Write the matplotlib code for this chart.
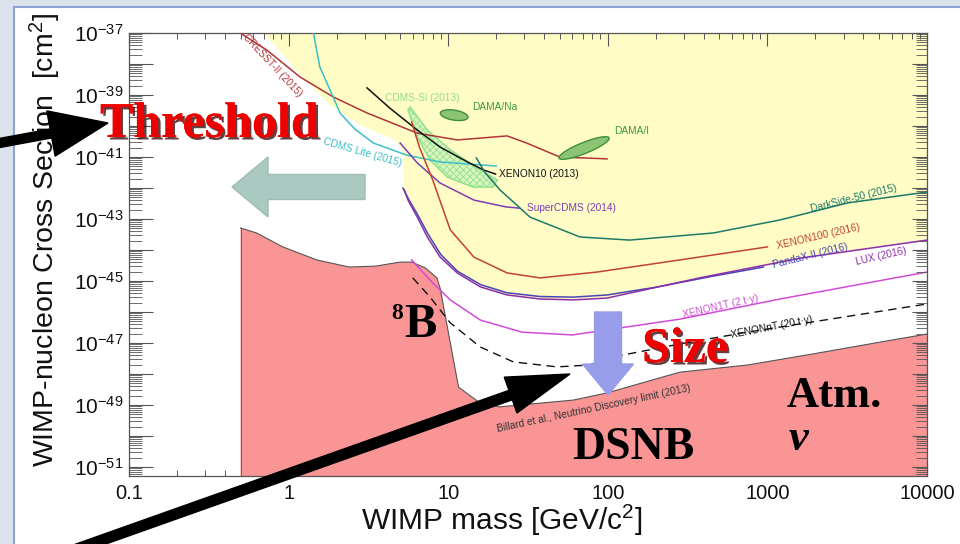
import numpy as np
import matplotlib
matplotlib.use('Agg')
import matplotlib.pyplot as plt
from matplotlib.patches import Rectangle, FancyArrow
from matplotlib.ticker import FixedLocator, NullFormatter, LogLocator, FixedFormatter
import matplotlib.patheffects as pe

plt.rcParams['font.family'] = ['Liberation Sans', 'DejaVu Sans']
plt.rcParams['mathtext.fontset'] = 'custom'
plt.rcParams['mathtext.rm'] = 'Liberation Sans'
plt.rcParams['mathtext.it'] = 'Liberation Sans:italic'
plt.rcParams['hatch.linewidth'] = 0.6

# ---------------- data ----------------
x_tick_values = [0.1, 1, 10, 100, 1000, 10000]
x_tick_labels = ['0.1', '1', '10', '100', '1000', '10000']
y_major_exps = list(range(-51, -36))
y_label_exps = [-37, -39, -41, -43, -45, -47, -49, -51]

# neutrino discovery limit (Billard et al. 2013) - log10 sigma
nu_mass = [0.5, 0.63, 0.92, 1.5, 2.4, 3.5, 5.0, 5.9, 7.2, 8.5, 8.9, 11.6, 12.9, 15.9, 21, 37.6,
           61, 99, 283, 750, 1940, 5100, 10000]
nu_logsig = [-43.29, -43.45, -43.9, -44.32, -44.55, -44.52, -44.39, -44.39, -44.58, -44.9, -45.23,
             -48.42, -48.6, -48.94, -49.06, -48.94, -48.84, -48.61, -47.94, -47.71, -47.35, -46.97, -46.71]

# excluded (yellow) region upper-left edge
excl_edge_mass = [0.68, 0.82, 1.18, 1.82, 2.8, 4.65, 5.2]
excl_edge_logsig = [-37.0, -37.39, -38.35, -39.32, -39.97, -40.45, -40.77]

cresst_mass = [0.497, 0.73, 1.18, 1.9, 3.1, 6.4, 11.4, 23.4, 31, 50, 99]
cresst_logsig = [-37.0, -37.55, -38.42, -39.06, -39.58, -40.23, -40.45, -40.32, -40.55, -41.0, -41.06]

cdmslite_mass = [1.43, 1.57, 1.9, 2.1, 2.6, 3.4, 5.5, 8.9, 20]
cdmslite_logsig = [-37.0, -38.1, -39.06, -39.58, -40.1, -40.55, -40.94, -41.16, -41.29]

cdmssi_mass = [5.78, 7.4, 10.3, 15.9, 20.3, 19.1, 14.3, 9.9, 7.7, 6.4, 5.6]
cdmssi_logsig = [-39.39, -40.13, -40.77, -41.42, -41.74, -41.97, -41.97, -41.65, -41.1, -40.35, -39.48]

xenon10_mass = [3.1, 4.3, 6.4, 8.9, 13.2, 16.7, 19.8]
xenon10_logsig = [-38.77, -39.42, -40.13, -40.68, -41.16, -41.42, -41.55]

supercdms_mass = [5.0, 6.4, 8.9, 14.5, 23, 28]
supercdms_logsig = [-40.55, -41.19, -41.84, -42.39, -42.61, -42.65]

darkside_mass = [15, 17, 21.1, 32.6, 67, 137, 460, 1200, 3190, 10000]
darkside_logsig = [-41.03, -41.5, -42.06, -42.94, -43.58, -43.68, -43.45, -43.03, -42.48, -42.13]

xenon100_mass = [5.9, 6.6, 8.0, 10.3, 14.5, 23.4, 37.6, 86, 283, 1000]
xenon100_logsig = [-39.87, -40.68, -41.74, -43.35, -44.23, -44.74, -44.9, -44.71, -44.32, -43.9]

pandax_mass = [5.2, 5.7, 6.5, 7.5, 9, 11.4, 16, 23.4, 37.6, 61, 99, 200, 450, 944]
pandax_logsig = [-42.0, -42.4, -42.9, -43.5, -44.15, -44.68, -45.12, -45.38, -45.5, -45.52, -45.45,
                 -45.2, -44.85, -44.55]

lux_mass = [5.3, 5.6, 6.4, 7.4, 8.9, 11.4, 15.9, 23.4, 37.6, 61, 99, 375, 1620, 10000]
lux_logsig = [-42.06, -42.39, -42.94, -43.58, -44.23, -44.74, -45.19, -45.45, -45.58, -45.61, -45.55,
              -44.9, -44.26, -43.68]

xenon1t_mass = [5.9, 8.0, 10.3, 15.9, 29, 60, 283, 1200, 10000]
xenon1t_logsig = [-44.32, -45.06, -45.61, -46.26, -46.65, -46.74, -46.23, -45.58, -44.71]

xenonnt_mass = [6.0, 7.7, 10.3, 15.9, 25.6, 48, 77, 108, 283, 750, 10000]
xenonnt_logsig = [-44.9, -45.52, -46.35, -47.13, -47.61, -47.77, -47.71, -47.45, -47.03, -46.65, -45.74]

# DAMA regions: centre mass, centre log10 sigma
dama_na_centre = (10.9, -39.65)
dama_i_centre = (71, -40.71)

# ---------------- figure ----------------
W, H = 960, 544
fig = plt.figure(figsize=(9.6, 5.44), dpi=100)
fig.patch.set_facecolor('#dbe2ec')


def fx(x):
    return x / W


def fy(y):
    return 1 - y / H


fig.add_artist(Rectangle((fx(14), fy(560)), 1.0, fy(7) - fy(560), transform=fig.transFigure,
                         facecolor='white', edgecolor='#8aa4d4', lw=1.5, zorder=-5))

ax = fig.add_axes([fx(129), fy(476), fx(927) - fx(129), fy(33) - fy(476)])
ax.set_xscale('log')
ax.set_yscale('log')
ax.set_xlim(0.1, 10000)
ylo, yhi = 10 ** -51.29, 1e-37
ax.set_ylim(ylo, yhi)


def sig(a):
    return [10.0 ** v for v in a]


yellow = '#fffcc6'
ym = excl_edge_mass + lux_mass + [10000, 10000]
ys = excl_edge_logsig + lux_logsig + [-37.0, -37.0]
ax.fill(ym, sig(ys), color=yellow, lw=0, zorder=1)

# neutrino floor
fm = [nu_mass[0]] + nu_mass + [nu_mass[-1]]
fs = [ylo] + sig(nu_logsig) + [ylo]
ax.fill(fm, fs, facecolor='#f99595', edgecolor='none', zorder=2)
ax.plot(nu_mass, sig(nu_logsig), color='#555555', lw=0.8, zorder=3)
ax.plot([nu_mass[0], nu_mass[0]], [ylo, 10.0 ** nu_logsig[0]], color='#555555', lw=0.6, zorder=3)

# CDMS-Si region
ax.fill(cdmssi_mass, sig(cdmssi_logsig), facecolor='#d4f5c0', edgecolor='#8fe08a',
        hatch='xxxxx', lw=1.2, zorder=3, alpha=0.9)

lw = 1.1
ax.plot(cresst_mass, sig(cresst_logsig), color='#b03438', lw=lw, zorder=4)
ax.plot(cdmslite_mass, sig(cdmslite_logsig), color='#3bbfc8', lw=lw, zorder=4)
ax.plot(xenon10_mass, sig(xenon10_logsig), color='#111111', lw=lw, zorder=4)
ax.plot(supercdms_mass, sig(supercdms_logsig), color='#7b3fb5', lw=lw, zorder=4)
ax.plot(darkside_mass, sig(darkside_logsig), color='#1d7a6a', lw=lw, zorder=4)
ax.plot(xenon100_mass, sig(xenon100_logsig), color='#c2422e', lw=lw, zorder=4)
ax.plot(pandax_mass, sig(pandax_logsig), color='#4646b4', lw=lw, zorder=4)
ax.plot(lux_mass, sig(lux_logsig), color='#8e2ea8', lw=lw, zorder=4)
ax.plot(xenon1t_mass, sig(xenon1t_logsig), color='#d04cd6', lw=lw, zorder=4)
ax.plot(xenonnt_mass, sig(xenonnt_logsig), color='#111111', lw=1.0, ls=(0, (6, 4)), zorder=4)

# DAMA ellipses: shape given in screen pixels (semi-major, semi-minor, angle)
px_per_dec_x, px_per_dec_y = 159.5, 31.0
for (mc, sc), (amaj, amin, ang) in [(dama_na_centre, (14, 5, -9)), (dama_i_centre, (27, 5.5, 22))]:
    t = np.linspace(0, 2 * np.pi, 90)
    a = np.deg2rad(ang)
    px = amaj * np.cos(t)
    py = amin * np.sin(t)
    rx = px * np.cos(a) - py * np.sin(a)
    ry = px * np.sin(a) + py * np.cos(a)
    ex = 10 ** (np.log10(mc) + rx / px_per_dec_x)
    ey = 10 ** (sc + ry / px_per_dec_y)
    ax.fill(ex, ey, facecolor='#8cc472', edgecolor='#3d8f3a', lw=1.0, zorder=4)

# curve labels
lab_fs = 7.3
labels = [
    ('CRESST-II (2015)', 0.79, -38.03, -47, '#b03438', 'center'),
    ('CDMS Lite (2015)', 2.89, -40.84, -16, '#3bbfc8', 'center'),
    ('CDMS-Si (2013)', 4.03, -39.1, 0, '#8fe08a', 'left'),
    ('DAMA/Na', 14.1, -39.39, 0, '#3d9a3a', 'left'),
    ('DAMA/I', 110, -40.16, 0, '#3d9a3a', 'left'),
    ('XENON10 (2013)', 20.9, -41.55, 0, '#111111', 'left'),
    ('SuperCDMS (2014)', 31.3, -42.65, 0, '#7b3fb5', 'left'),
    ('DarkSide-50 (2015)', 3460, -42.35, 14, '#1d7a6a', 'center'),
    ('XENON100 (2016)', 2090, -43.55, 13, '#c2422e', 'center'),
    ('PandaX-II (2016)', 1862, -44.19, 14, '#4646b4', 'center'),
    ('LUX (2016)', 5190, -44.19, 13, '#8e2ea8', 'center'),
    ('XENON1T (2 t\u00b7y)', 507, -45.81, 13, '#d04cd6', 'center'),
    ('XENONnT (20 t\u00b7y)', 1059, -46.48, 11, '#111111', 'center'),
    ('Billard et al., Neutrino Discovery limit (2013)', 81, -49.1, 12, '#333333', 'center'),
]
for txt, m, s, rot, col, ha in labels:
    ax.text(m, 10 ** s, txt, color=col, fontsize=lab_fs, rotation=rot, ha=ha, va='center',
            rotation_mode='anchor', zorder=6)

# ticks
tick_col = '#555555'
for sp in ax.spines.values():
    sp.set_color(tick_col)
    sp.set_linewidth(0.9)
ax.xaxis.set_major_locator(FixedLocator(x_tick_values))
ax.xaxis.set_major_formatter(FixedFormatter(x_tick_labels))
ax.xaxis.set_minor_locator(LogLocator(base=10, subs=np.arange(2, 10), numticks=100))
ax.xaxis.set_minor_formatter(NullFormatter())
ax.yaxis.set_major_locator(FixedLocator([10.0 ** k for k in y_major_exps]))
ax.yaxis.set_major_formatter(FixedFormatter(
    [(r'$\mathregular{10^{%d}}$' % k if k in y_label_exps else '') for k in y_major_exps]))
ax.yaxis.set_minor_locator(LogLocator(base=10, subs=np.arange(2, 10), numticks=100))
ax.yaxis.set_minor_formatter(NullFormatter())
ax.tick_params(axis='x', which='major', direction='in', length=9.5, width=0.8, color=tick_col,
               top=True, labelsize=14.5, pad=6, labelcolor='#111111')
ax.tick_params(axis='x', which='minor', direction='in', length=4.5, width=0.7, color=tick_col, top=True)
ax.tick_params(axis='y', which='major', direction='in', length=17.5, width=0.8, color=tick_col,
               labelsize=15, pad=4, labelcolor='#111111')
ax.tick_params(axis='y', which='minor', direction='in', length=9.5, width=0.6, color=tick_col)

ax2 = ax.twinx()
ax2.set_yscale('log')
ax2.set_ylim(ylo, yhi)
ax2.yaxis.set_major_locator(FixedLocator([10.0 ** k for k in y_major_exps]))
ax2.yaxis.set_minor_locator(LogLocator(base=10, subs=np.arange(2, 10), numticks=100))
ax2.yaxis.set_major_formatter(NullFormatter())
ax2.yaxis.set_minor_formatter(NullFormatter())
ax2.tick_params(axis='y', which='major', direction='in', length=11, width=0.8, color=tick_col)
ax2.tick_params(axis='y', which='minor', direction='in', length=8, width=0.6, color=tick_col)
for sp in ax2.spines.values():
    sp.set_visible(False)

# axis labels
fig.text(fx(502), fy(530), 'WIMP mass [GeV/c$^{\\mathregular{2}}$]', fontsize=21.5, ha='center',
         va='baseline', color='#111111')
fig.text(fx(54), fy(240), 'WIMP-nucleon Cross Section  [cm$^{\\mathregular{2}}$]', fontsize=20.5,
         rotation=90, ha='center', va='baseline', rotation_mode='anchor', color='#111111')

# ---------------- annotations ----------------
T = fig.dpi_scale_trans


def inch(x, y):
    return x / 100.0, (H - y) / 100.0


def arrow(x0, y0, x1, y1, width, hw, hl, fc, ec):
    a0 = inch(x0, y0)
    a1 = inch(x1, y1)
    fig.add_artist(FancyArrow(a0[0], a0[1], a1[0] - a0[0], a1[1] - a0[1], width=width / 100,
                              head_width=hw / 100, head_length=hl / 100, length_includes_head=True,
                              transform=T, facecolor=fc, edgecolor=ec, lw=1, zorder=10))


arrow(365, 187, 232, 187, 25, 60, 36, '#aac9c1', '#9dbdb5')
arrow(608, 312, 608, 395, 27, 51, 31, '#979ceb', '#979ceb')
arrow(-6, 144, 108, 123, 9, 46, 58, 'black', 'black')
arrow(60, 555, 570, 374, 10, 38, 63, 'black', 'black')

shadow = [pe.withSimplePatchShadow(offset=(1.8, -1.8), shadow_rgbFace='#300000', alpha=0.75), pe.Normal()]
sf = ['Liberation Serif', 'DejaVu Serif']
fig.text(fx(100), fy(137), 'Threshold', fontsize=36, fontweight='bold', family=sf, color='#ee0000',
         va='baseline', ha='left', path_effects=shadow, zorder=11)
fig.text(fx(642), fy(362), 'Size', fontsize=36, fontweight='bold', family=sf, color='#ee0000',
         va='baseline', ha='left', path_effects=shadow, zorder=11)
fig.text(fx(391), fy(319), '8', fontsize=17, fontweight='bold', family=sf, color='black',
         va='baseline', ha='left', zorder=11)
fig.text(fx(404), fy(337), 'B', fontsize=35, fontweight='bold', family=sf, color='black',
         va='baseline', ha='left', zorder=11)
fig.text(fx(572), fy(459), 'DSNB', fontsize=33, fontweight='bold', family=sf, color='black',
         va='baseline', ha='left', zorder=11)
fig.text(fx(787), fy(407), 'Atm.', fontsize=32, fontweight='bold', family=sf, color='black',
         va='baseline', ha='left', zorder=11)
fig.text(fx(789), fy(450), '\u03bd', fontsize=32, fontweight='bold', style='italic', family=sf,
         color='black', va='baseline', ha='left', zorder=11)

fig.savefig('out.png', dpi=100, facecolor=fig.get_facecolor())
